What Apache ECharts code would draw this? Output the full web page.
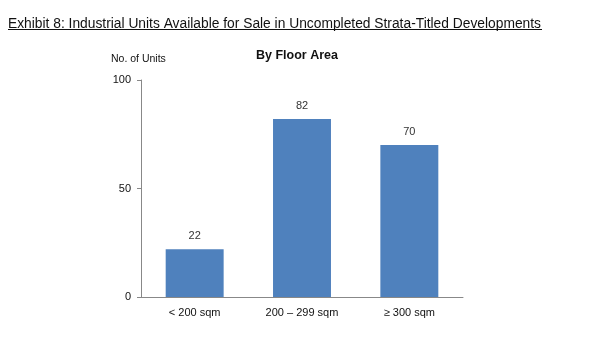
<!DOCTYPE html>
<html>
<head>
<meta charset="utf-8">
<script src="https://cdn.jsdelivr.net/npm/echarts@6/dist/echarts.min.js"></script>
<style>
html,body{margin:0;padding:0;background:#fff;}
#c{width:600px;height:360px;}
</style>
</head>
<body>
<div id="c"></div>
<script>
const categories = ['< 200 sqm', '200 – 299 sqm', '≥ 300 sqm'];
const units = [22, 82, 70];
const yTicks = [0, 50, 100];

const chart = echarts.init(document.getElementById('c'), null, {renderer: 'canvas'});
chart.setOption({
  animation: false,
  backgroundColor: '#fff',
  title: [
    {
      text: 'Exhibit 8: Industrial Units Available for Sale in Uncompleted Strata-Titled Developments',
      left: 8, top: 17, padding: 0,
      textStyle: {fontFamily: 'Liberation Sans, Arial', fontSize: 13.8, fontWeight: 'normal', color: '#111'}
    },
    {
      text: 'By Floor Area',
      left: 297, top: 49, textAlign: 'center', padding: 0,
      textStyle: {fontFamily: 'Liberation Sans, Arial', fontSize: 12.5, fontWeight: 'bold', color: '#111'}
    },
    {
      text: 'No. of Units',
      left: 111, top: 54, padding: 0,
      textStyle: {fontFamily: 'Liberation Sans, Arial', fontSize: 10.5, fontWeight: 'normal', color: '#111'}
    }
  ],
  graphic: [{
    type: 'line',
    shape: {x1: 8, y1: 29.5, x2: 542, y2: 29.5},
    style: {stroke: '#111', lineWidth: 1}
  }],
  grid: {left: 141, right: 137, top: 80, bottom: 63, containLabel: false},
  xAxis: {
    type: 'category',
    data: categories,
    axisLine: {lineStyle: {color: '#888', width: 1}},
    axisTick: {show: false},
    axisLabel: {fontFamily: 'Liberation Sans, Arial', fontSize: 11, color: '#111', margin: 10}
  },
  yAxis: {
    type: 'value',
    min: yTicks[0], max: yTicks[yTicks.length - 1], interval: 50,
    splitLine: {show: false},
    axisLine: {show: true, lineStyle: {color: '#888', width: 1}},
    axisTick: {show: true, length: 4, lineStyle: {color: '#888'}},
    axisLabel: {fontFamily: 'Liberation Sans, Arial', fontSize: 11, color: '#111', margin: 10}
  },
  series: [{
    type: 'bar',
    data: units,
    barWidth: '54%',
    itemStyle: {color: '#4F81BD'},
    label: {show: true, position: 'top', distance: 8, fontFamily: 'Liberation Sans, Arial', fontSize: 11, color: '#333'}
  }]
});
</script>
</body>
</html>
